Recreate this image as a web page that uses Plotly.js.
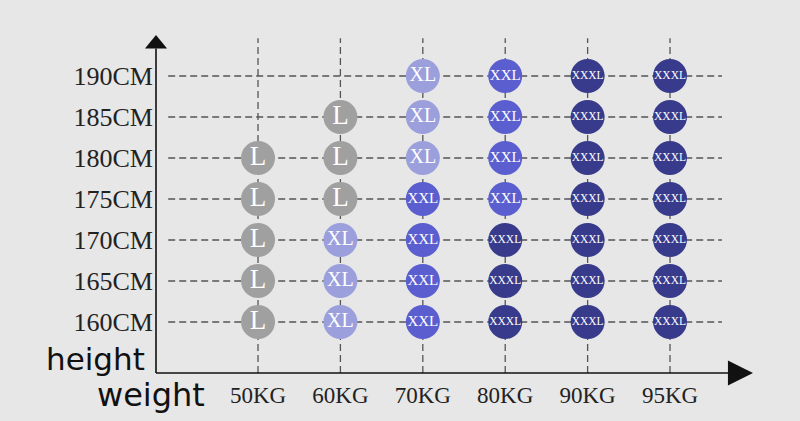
<!DOCTYPE html>
<html>
<head>
<meta charset="utf-8">
<script src="https://cdn.plot.ly/plotly-3.0.1.min.js"></script>
<style>
  html, body { margin: 0; padding: 0; background: #e7e7e7; }
  #chart { width: 800px; height: 421px; }
</style>
</head>
<body>
<div id="chart"></div>
<script>
// ---- data ----
const weights = ['50KG', '60KG', '70KG', '80KG', '90KG', '95KG'];
const heights = [190, 185, 180, 175, 170, 165, 160];
const heightLabels = ['190CM', '185CM', '180CM', '175CM', '170CM', '165CM', '160CM'];
// size for each height row (same order as heights), per weight column
const size190 = ['', '', 'XL', 'XXL', 'XXXL', 'XXXL'];
const size185 = ['', 'L', 'XL', 'XXL', 'XXXL', 'XXXL'];
const size180 = ['L', 'L', 'XL', 'XXL', 'XXXL', 'XXXL'];
const size175 = ['L', 'L', 'XXL', 'XXL', 'XXXL', 'XXXL'];
const size170 = ['L', 'XL', 'XXL', 'XXXL', 'XXXL', 'XXXL'];
const size165 = ['L', 'XL', 'XXL', 'XXXL', 'XXXL', 'XXXL'];
const size160 = ['L', 'XL', 'XXL', 'XXXL', 'XXXL', 'XXXL'];
const sizeRows = [size190, size185, size180, size175, size170, size165, size160];
const sizeNames = ['L', 'XL', 'XXL', 'XXXL'];

// ---- styles ----
const sizeColors = { L: '#a0a0a0', XL: '#9ba0dc', XXL: '#5a5ecf', XXXL: '#383b8b' };
const sizeFont = { L: 27, XL: 20, XXL: 15, XXXL: 11.5 };
const gridColor = '#555555';

const traces = sizeNames.map(name => {
  const xs = [], ys = [];
  sizeRows.forEach((row, r) => {
    row.forEach((s, c) => {
      if (s === name) { xs.push(weights[c]); ys.push(heights[r]); }
    });
  });
  return {
    type: 'scatter',
    mode: 'markers+text',
    x: xs, y: ys,
    text: xs.map(() => name),
    textposition: 'middle center',
    textfont: { family: 'Liberation Serif, serif', size: sizeFont[name], color: '#ffffff' },
    marker: { size: 34, color: sizeColors[name], line: { width: 0 } },
    hoverinfo: 'skip',
    showlegend: false,
    cliponaxis: false
  };
});

const yMin = 153.78, yMax = 195.0;
const xMin = -1.238, xMax = 6.007;

const shapes = [];
// horizontal dashed gridlines
heights.forEach(h => {
  shapes.push({ type: 'line', xref: 'x', yref: 'y', x0: -1.09, x1: 5.63, y0: h, y1: h,
    line: { color: gridColor, width: 1.3, dash: '7px,4px' }, layer: 'below' });
});
// vertical dashed gridlines
weights.forEach((w, i) => {
  shapes.push({ type: 'line', xref: 'x', yref: 'y', x0: i, x1: i, y0: yMin, y1: 194.6,
    line: { color: gridColor, width: 1.3, dash: '7px,4px' }, layer: 'below' });
});
// axes lines
shapes.push({ type: 'line', xref: 'paper', yref: 'paper', x0: 0, x1: 0, y0: 0, y1: 0.96,
  line: { color: '#111', width: 1.6 } });
shapes.push({ type: 'line', xref: 'paper', yref: 'paper', x0: 0, x1: 0.96, y0: 0, y1: 0,
  line: { color: '#111', width: 1.6 } });
// arrow heads
shapes.push({ type: 'path', xref: 'paper', yref: 'paper',
  path: 'M -0.0185 0.96 L 0.0185 0.96 L 0 1 Z', fillcolor: '#111', line: { width: 0 } });
shapes.push({ type: 'path', xref: 'paper', yref: 'paper',
  path: 'M 0.958 -0.037 L 0.958 0.037 L 1 0 Z', fillcolor: '#111', line: { width: 0 } });

const layout = {
  width: 800, height: 421,
  paper_bgcolor: '#e7e7e7', plot_bgcolor: '#e7e7e7',
  margin: { l: 156, r: 47, t: 35, b: 48 },
  xaxis: {
    type: 'category', categoryorder: 'array', categoryarray: weights,
    range: [xMin, xMax], showgrid: false, zeroline: false, showline: false,
    ticks: '', ticklabelstandoff: 6,
    tickfont: { family: 'Liberation Serif, serif', size: 23, color: '#222' },
    fixedrange: true
  },
  yaxis: {
    range: [yMin, yMax], showgrid: false, zeroline: false, showline: false,
    tickmode: 'array', tickvals: heights, ticktext: heightLabels,
    ticks: '', ticklabelstandoff: 2,
    tickfont: { family: 'Liberation Serif, serif', size: 26, color: '#222' },
    fixedrange: true
  },
  shapes: shapes,
  annotations: [
    { text: 'height', xref: 'paper', yref: 'paper', x: -0.015, y: 0.0, xanchor: 'right', yanchor: 'bottom',
      yshift: -6, showarrow: false,
      font: { family: 'DejaVu Sans, sans-serif', size: 31, color: '#111' } },
    { text: 'weight', xref: 'paper', yref: 'paper', x: 0.085, y: 0.0, xanchor: 'right', yanchor: 'top',
      yshift: -1, showarrow: false,
      font: { family: 'DejaVu Sans, sans-serif', size: 32, color: '#111' } }
  ],
  showlegend: false
};

Plotly.newPlot('chart', traces, layout, { displayModeBar: false, staticPlot: true });
</script>
</body>
</html>
